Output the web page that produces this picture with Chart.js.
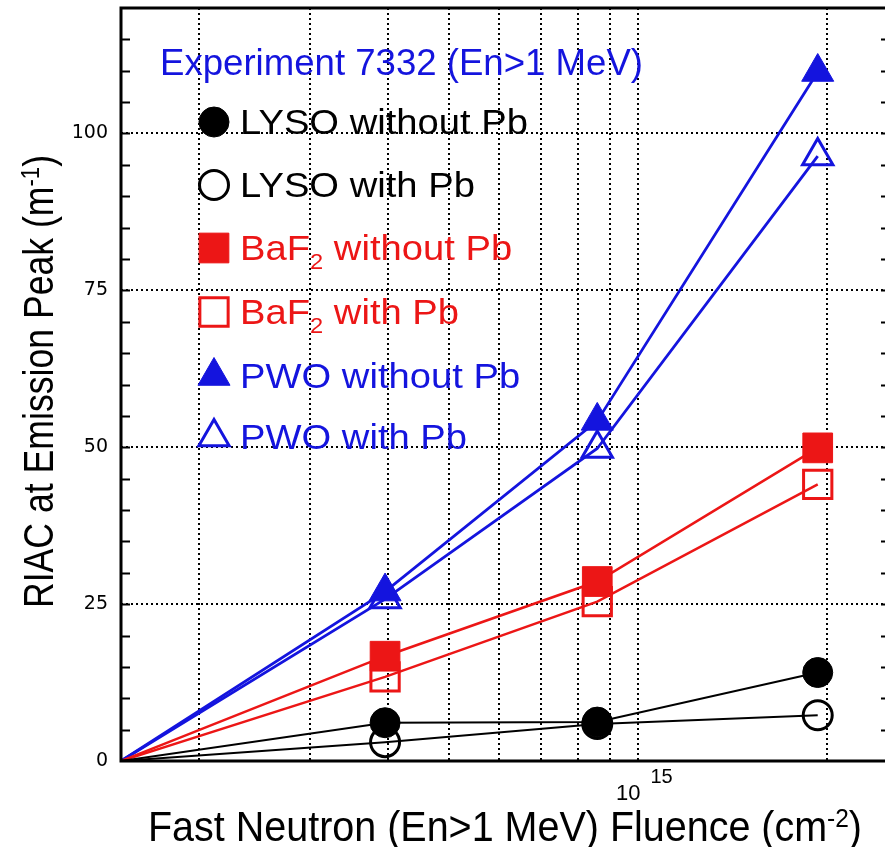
<!DOCTYPE html>
<html>
<head>
<meta charset="utf-8">
<script src="https://cdn.jsdelivr.net/npm/chart.js@4.4.1/dist/chart.umd.min.js"></script>
<style>
    html, body { margin: 0; padding: 0; background: #fff; }
    #wrap { width: 885px; height: 847px; }
</style>
</head>
<body>
<div id="wrap"><canvas id="riacChart" width="885" height="847"></canvas></div>
<script>
// fluence (cm^-2); the first entry is the left edge of the axis, where every line starts from 0
const fluence = [1.5e14, 3.95e14, 8.6e14, 1.93e15];

// RIAC at emission peak (m^-1)
const lysoNoPb = [0, 6.1, 6.2, 14.1];
const lysoPb = [0, 3.0, 5.9, 7.3];
const bafNoPb = [0, 16.7, 28.6, 49.9];
const bafPb = [0, 13.4, 25.4, 44.1];
const pwoNoPb = [0, 27.0, 54.2, 109.8];
const pwoPb = [0, 25.8, 49.8, 96.4];

const xGridTicks = [2e14, 3e14, 4e14, 5e14, 6e14, 7e14, 8e14, 9e14, 1e15, 2e15];
const yTicks = [0, 25, 50, 75, 100];

const legendLabels = [
    [['LYSO without Pb']],
    [['LYSO with Pb']],
    [['BaF'], ['2', 'sub'], [' without Pb']],
    [['BaF'], ['2', 'sub'], [' with Pb']],
    [['PWO without Pb']],
    [['PWO with Pb']]
];

const BLUE = 'rgb(20,20,222)';
const RED = 'rgb(236,22,22)';
const BLACK = '#000';
const FONT = '"Liberation Sans", Arial, sans-serif';

function series(label, values, color, style, filled, size, lw) {
    return {
        label: label,
        data: values.map((v, i) => ({x: fluence[i], y: v})),
        borderColor: color,
        backgroundColor: color,
        borderWidth: lw,
        pointStyle: style,
        pointRadius: values.map((v, i) => i === 0 ? 0 : size),
        pointBackgroundColor: filled ? color : 'rgba(0,0,0,0)',
        pointBorderColor: color,
        pointBorderWidth: filled ? 1 : 3,
        tension: 0
    };
}

// rich text: parts = [[text, 'sub'|'sup'|undefined], ...]
function partsWidth(ctx, parts, size) {
    let w = 0;
    parts.forEach(p => {
        ctx.font = (p[1] ? size * 0.62 : size) + 'px ' + FONT;
        w += ctx.measureText(p[0]).width;
    });
    return w;
}

function drawParts(ctx, parts, size, color) {
    let cx = 0;
    ctx.fillStyle = color;
    ctx.textAlign = 'left';
    ctx.textBaseline = 'alphabetic';
    parts.forEach(p => {
        const kind = p[1];
        ctx.font = (kind ? size * 0.62 : size) + 'px ' + FONT;
        const dy = kind === 'sub' ? size * 0.27 : (kind === 'sup' ? -size * 0.33 : 0);
        ctx.fillText(p[0], cx, dy);
        cx += ctx.measureText(p[0]).width;
    });
}

function drawMarker(ctx, ds, x, y) {
    const r = ds.pointRadius[1];
    ctx.save();
    ctx.beginPath();
    if (ds.pointStyle === 'circle') {
        ctx.arc(x, y, r, 0, Math.PI * 2);
    } else if (ds.pointStyle === 'rect') {
        const s = r * Math.SQRT1_2;
        ctx.rect(x - s, y - s, 2 * s, 2 * s);
    } else {
        ctx.moveTo(x, y - r);
        ctx.lineTo(x + r * 0.866, y + r / 2);
        ctx.lineTo(x - r * 0.866, y + r / 2);
        ctx.closePath();
    }
    ctx.fillStyle = ds.pointBackgroundColor;
    ctx.fill();
    ctx.lineWidth = ds.pointBorderWidth;
    ctx.strokeStyle = ds.pointBorderColor;
    ctx.stroke();
    ctx.restore();
}

const decorPlugin = {
    id: 'decor',
    afterDraw(chart) {
        const ctx = chart.ctx;
        const area = chart.chartArea;
        const yScale = chart.scales.y;

        // frame (right side lies off the picture)
        ctx.save();
        ctx.strokeStyle = BLACK;
        ctx.lineWidth = 3;
        ctx.beginPath();
        ctx.moveTo(area.right + 2, area.top);
        ctx.lineTo(area.left, area.top);
        ctx.lineTo(area.left, area.bottom);
        ctx.lineTo(area.right + 2, area.bottom);
        ctx.stroke();

        // inward minor ticks every 5
        ctx.lineWidth = 2;
        ctx.beginPath();
        for (let v = 5; v < 120; v += 5) {
            const py = Math.round(yScale.getPixelForValue(v)) + 0.5;
            ctx.moveTo(area.left, py);
            ctx.lineTo(area.left + 9, py);
            ctx.moveTo(area.right - 4, py);
            ctx.lineTo(area.right, py);
        }
        ctx.stroke();
        ctx.restore();

        // title in plot
        ctx.save();
        const title = [['Experiment 7332 (En>1 MeV)']];
        const tw = partsWidth(ctx, title, 37);
        ctx.translate(160, 75);
        ctx.scale(483 / tw, 1);
        drawParts(ctx, title, 37, BLUE);
        ctx.restore();

        // legend
        const rows = [122, 185, 248, 312, 376, 437];
        ctx.save();
        const lsx = 288 / partsWidth(ctx, legendLabels[0], 35);
        ctx.restore();
        chart.data.datasets.forEach((ds, i) => {
            drawMarker(ctx, ds, 214, rows[i]);
            ctx.save();
            ctx.translate(240, rows[i] + 12);
            ctx.scale(lsx, 1);
            drawParts(ctx, legendLabels[i], 35, ds.borderColor);
            ctx.restore();
        });

        // x tick label 10^15
        const px15 = chart.scales.x.getPixelForValue(1e15);
        ctx.save();
        ctx.fillStyle = BLACK;
        ctx.font = '22px ' + FONT;
        ctx.textAlign = 'right';
        ctx.fillText('10', px15 + 2, 800);
        ctx.textAlign = 'left';
        ctx.font = '20px ' + FONT;
        ctx.fillText('15', px15 + 12, 783);
        ctx.restore();

        // x axis title
        const xt = [['Fast Neutron (En>1 MeV) Fluence (cm'], ['-2', 'sup'], [')']];
        ctx.save();
        const xw = partsWidth(ctx, xt, 42);
        ctx.translate(148, 841);
        ctx.scale(714 / xw, 1);
        drawParts(ctx, xt, 42, BLACK);
        ctx.restore();

        // y axis title
        const yt = [['RIAC at Emission Peak (m'], ['-1', 'sup'], [')']];
        ctx.save();
        const yw = partsWidth(ctx, yt, 42);
        ctx.translate(53, 608);
        ctx.rotate(-Math.PI / 2);
        ctx.scale(453 / yw, 1);
        drawParts(ctx, yt, 42, BLACK);
        ctx.restore();
    }
};

new Chart(document.getElementById('riacChart'), {
    type: 'line',
    data: {
        datasets: [
            series('LYSO without Pb', lysoNoPb, BLACK, 'circle', true, 15, 2),
            series('LYSO with Pb', lysoPb, BLACK, 'circle', false, 14.5, 2),
            series('BaF2 without Pb', bafNoPb, RED, 'rect', true, 21, 2.5),
            series('BaF2 with Pb', bafPb, RED, 'rect', false, 20, 2.5),
            series('PWO without Pb', pwoNoPb, BLUE, 'triangle', true, 18.5, 2.8),
            series('PWO with Pb', pwoPb, BLUE, 'triangle', false, 17.5, 2.8)
        ]
    },
    options: {
        responsive: false,
        animation: false,
        layout: {autoPadding: false, padding: {top: 8, right: 0, left: 0, bottom: 0}},
        plugins: {
            legend: {display: false},
            title: {display: false},
            tooltip: {enabled: false}
        },
        scales: {
            x: {
                type: 'logarithmic',
                min: 1.5e14,
                max: 2.47e15,
                afterBuildTicks: scale => {
                    scale.ticks = xGridTicks.map(v => ({value: v}));
                },
                afterFit: scale => {
                    scale.height = 86;
                    scale.paddingLeft = 0;
                    scale.paddingRight = 0;
                },
                ticks: {display: false},
                grid: {color: BLACK, lineWidth: 2, drawTicks: false},
                border: {display: false, dash: [2, 3]}
            },
            y: {
                type: 'linear',
                min: 0,
                max: 120,
                afterBuildTicks: scale => {
                    scale.ticks = yTicks.map(v => ({value: v}));
                },
                afterFit: scale => {
                    scale.width = 121;
                    scale.paddingTop = 0;
                    scale.paddingBottom = 0;
                },
                ticks: {
                    color: BLACK,
                    padding: 13,
                    font: {family: '"DejaVu Sans", sans-serif', size: 19}
                },
                grid: {color: BLACK, lineWidth: 2, drawTicks: false},
                border: {display: false, dash: [2, 3]}
            }
        }
    },
    plugins: [decorPlugin]
});
</script>
</body>
</html>
